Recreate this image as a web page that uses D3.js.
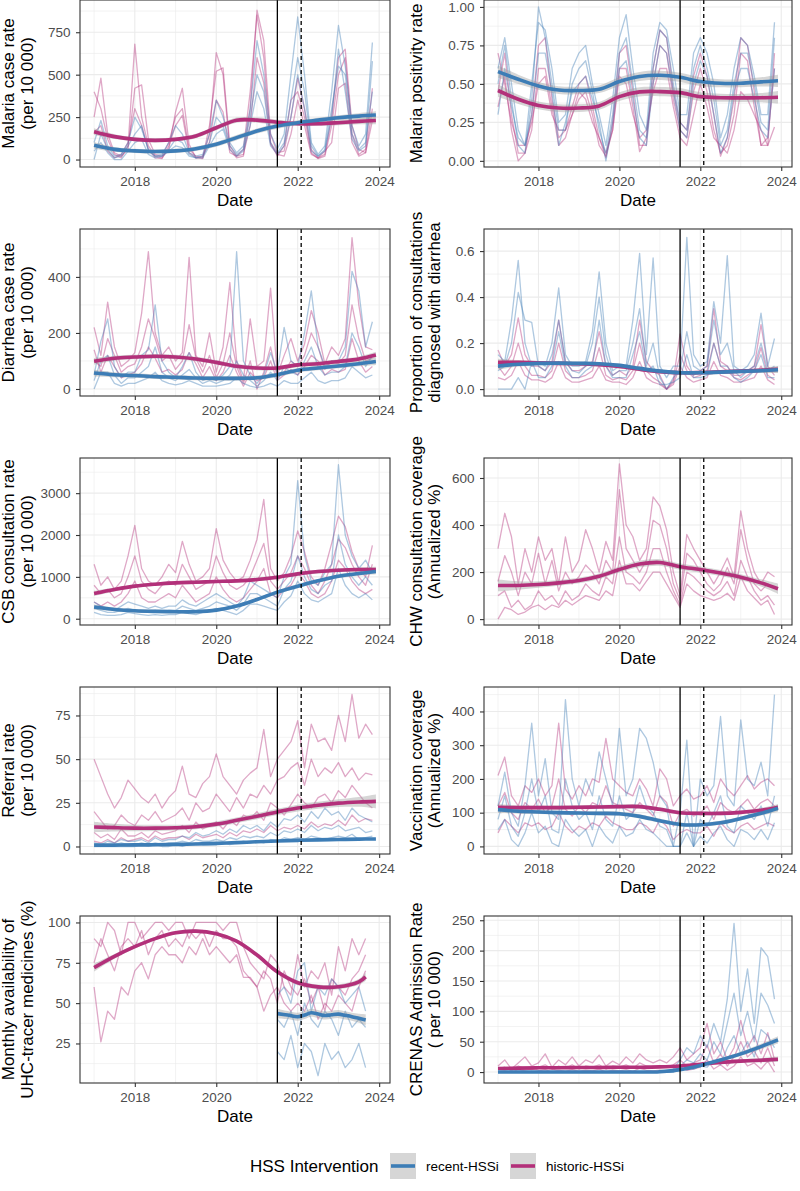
<!DOCTYPE html>
<html lang="en">
<head>
<meta charset="UTF-8">
<title>HSS intervention indicators</title>
<script src="https://cdnjs.cloudflare.com/ajax/libs/d3/7.8.5/d3.min.js"></script>
<style>
  body { margin: 0; background: #fff; }
  svg text { font-family: "Liberation Sans", Arial, Helvetica, sans-serif; }
</style>
</head>
<body>
<div id="draw-here"></div>
<script>
// ---------- data (bimonthly values from Jan 2017) ----------
var xTicks = [2018, 2020, 2022, 2024];
var xMinor = [2017, 2019, 2021, 2023];
var groups = ["recent-HSSi", "historic-HSSi"];
var smoothT = [2017, 2017.5, 2018, 2018.5, 2019, 2019.5, 2020, 2020.5, 2021, 2021.5, 2022, 2022.5, 2023, 2023.5, 2023.92];

// Malaria case rate
var malariaCaseHist = [
  [400,300,120,30,10,80, 680,250,80,20,10,60, 280,420,90,10,5,150, 630,500,60,10,20,300, 880,700,150,40,50,250, 480,300,60,10,30,250, 600,650,200,60,40,300],
  [250,480,150,40,20,60, 420,440,120,30,20,100, 250,300,60,20,10,200, 520,540,80,20,60,400, 850,600,100,20,80,350, 400,250,40,5,20,200, 500,600,150,30,60,420],
  [160,200,50,10,30,100, 300,200,60,10,5,80, 200,260,40,10,20,100, 350,280,40,20,30,200, 600,450,90,30,20,150, 350,200,30,10,50,100, 420,450,100,20,40,230]
];
var malariaCaseRecent = [
  [100,230,80,20,30,100, 250,180,60,20,30,100, 200,150,40,20,30,150, 350,250,100,40,80,300, 700,500,150,60,150,500, 840,500,100,30,80,400, 790,550,200,80,150,690],
  [0,150,60,10,20,80, 150,200,50,20,20,60, 120,100,30,10,20,100, 250,200,80,30,60,250, 500,400,100,40,100,350, 600,400,80,20,60,300, 550,500,150,60,100,400],
  [50,100,40,0,0,50, 100,120,30,10,20,50, 80,70,20,10,10,80, 150,180,60,20,50,200, 400,300,80,30,80,250, 500,300,50,20,50,250, 650,400,120,50,80,580]
];
var malariaCaseSmoothHist = [164,135,119,113,119,139,187,232,232,220,211,211,217,225,230];
var malariaCaseSmoothRecent = [84,60,51,47,51,64,90,129,168,197,217,232,246,256,262];
var malariaCaseBand = [20,14,12,12,12,13,14,15,15,15,14,14,15,17,22];

// Malaria positivity rate
var positivityHist = [
  [0.45,0.7,0.3,0.05,0.05,0.3, 0.75,0.8,0.4,0.15,0.2,0.35, 0.5,0.55,0.35,0.15,0.02,0.25, 0.7,0.75,0.45,0.1,0.1,0.6, 0.85,0.8,0.45,0.25,0.2,0.55, 0.7,0.55,0.3,0.03,0.15,0.4, 0.8,0.75,0.45,0.1,0.1,0.7],
  [0.35,0.55,0.2,0.0,0.05,0.2, 0.6,0.6,0.35,0.1,0.15,0.3, 0.4,0.45,0.3,0.1,0.03,0.2, 0.6,0.6,0.35,0.06,0.15,0.5, 0.75,0.7,0.4,0.2,0.15,0.45, 0.6,0.45,0.2,0.05,0.1,0.3, 0.7,0.65,0.35,0.1,0.15,0.6],
  [0.7,0.5,0.25,0.1,0.1,0.25, 0.5,0.55,0.3,0.2,0.2,0.3, 0.45,0.4,0.25,0.15,0.05,0.2, 0.55,0.5,0.3,0.15,0.2,0.45, 0.6,0.6,0.35,0.15,0.1,0.3, 0.5,0.35,0.15,0.1,0.05,0.2, 0.45,0.4,0.3,0.2,0.1,0.22]
];
var positivityRecent = [
  [0.6,0.8,0.5,0.2,0.1,0.5, 0.9,0.85,0.6,0.25,0.3,0.6, 0.7,0.75,0.5,0.3,0.1,0.4, 0.8,0.95,0.6,0.3,0.2,0.7, 0.9,0.85,0.6,0.3,0.3,0.7, 0.8,0.7,0.5,0.15,0.3,0.6, 0.8,0.75,0.55,0.3,0.3,0.9],
  [0.5,0.75,0.4,0.1,0.05,0.4, 1.0,0.8,0.5,0.2,0.2,0.5, 0.6,0.65,0.45,0.2,0.05,0.3, 0.7,0.8,0.5,0.2,0.15,0.6, 0.85,0.8,0.5,0.25,0.2,0.6, 0.75,0.6,0.4,0.1,0.2,0.5, 0.7,0.7,0.5,0.25,0.2,0.8],
  [0.3,0.6,0.35,0.15,0.1,0.3, 0.7,0.7,0.45,0.1,0.25,0.45, 0.5,0.55,0.4,0.25,0.0,0.25, 0.6,0.65,0.4,0.15,0.1,0.5, 0.75,0.7,0.45,0.2,0.15,0.5, 0.65,0.55,0.3,0.05,0.15,0.45, 0.6,0.6,0.4,0.2,0.15,0.6]
];
var positivitySmoothHist = [0.457,0.40,0.36,0.343,0.343,0.357,0.417,0.448,0.45,0.443,0.417,0.41,0.409,0.41,0.413];
var positivitySmoothRecent = [0.58,0.53,0.487,0.46,0.457,0.465,0.515,0.548,0.556,0.543,0.515,0.504,0.504,0.513,0.52];
var positivityBand = [0.04,0.03,0.025,0.025,0.025,0.025,0.028,0.03,0.03,0.03,0.028,0.026,0.026,0.03,0.04];

// Diarrhea case rate
var diarrheaHist = [
  [220,120,310,150,80,100, 130,270,490,200,120,150, 100,130,470,120,80,200, 60,150,380,100,30,250, 80,100,360,50,120,180, 100,160,280,200,90,150, 120,180,540,300,150,140],
  [100,80,180,120,60,80, 90,150,250,180,100,120, 70,100,230,110,60,120, 40,90,200,80,20,100, 0,60,150,40,60,100, 80,120,200,150,70,100, 90,120,300,180,100,110],
  [140,60,120,80,40,50, 60,90,150,110,60,70, 50,70,130,90,40,80, 30,60,120,60,10,60, 30,40,100,30,50,70, 50,80,120,100,50,70, 60,70,180,100,60,80]
];
var diarrheaRecent = [
  [50,170,250,80,40,60, 60,120,140,300,100,60, 40,80,130,60,30,40, 30,50,80,490,100,50, 20,50,130,60,220,100, 80,200,350,150,80,100, 100,150,420,350,150,240],
  [30,100,120,50,20,40, 40,60,80,150,60,40, 30,50,70,40,20,30, 20,30,50,100,50,30, 10,30,60,30,80,60, 50,100,150,80,50,60, 60,80,200,150,80,120],
  [0,60,60,20,10,20, 20,30,40,60,30,20, 15,20,30,20,10,10, 10,15,20,40,20,10, 5,10,20,10,30,20, 20,40,60,30,20,30, 30,40,80,60,40,50]
];
var diarrheaSmoothHist = [99,110,114,117,114,107,95,81,75,75,86,90,98,107,121];
var diarrheaSmoothRecent = [57,51,48,44,42,39,38,38,40,51,67,75,82,90,98];
var diarrheaBand = [12,9,8,8,8,8,8,8,8,8,8,8,8,9,12];

// Proportion of consultations diagnosed with diarrhea
var propDiarrheaHist = [
  [0.17,0.1,0.15,0.31,0.15,0.1, 0.1,0.08,0.12,0.3,0.12,0.08, 0.08,0.1,0.12,0.25,0.1,0.06, 0.08,0.06,0.1,0.3,0.12,0.08, 0.06,0.0,0.04,0.24,0.1,0.06, 0.08,0.1,0.35,0.12,0.1,0.06, 0.06,0.08,0.1,0.28,0.1,0.06],
  [0.1,0.06,0.1,0.2,0.1,0.06, 0.06,0.05,0.08,0.2,0.08,0.05, 0.05,0.06,0.08,0.18,0.06,0.04, 0.05,0.04,0.08,0.2,0.08,0.05, 0.03,0.0,0.03,0.15,0.08,0.05, 0.06,0.08,0.2,0.1,0.08,0.05, 0.04,0.06,0.08,0.18,0.06,0.04],
  [0.05,0.04,0.06,0.12,0.06,0.04, 0.04,0.03,0.05,0.12,0.05,0.03, 0.03,0.04,0.05,0.1,0.04,0.03, 0.03,0.02,0.05,0.12,0.05,0.03, 0.02,0.0,0.02,0.1,0.05,0.03, 0.04,0.05,0.12,0.06,0.05,0.03, 0.03,0.04,0.05,0.1,0.04,0.02]
];
var propDiarrheaRecent = [
  [0.15,0.12,0.3,0.56,0.2,0.1, 0.12,0.1,0.2,0.44,0.15,0.1, 0.1,0.12,0.25,0.51,0.2,0.08, 0.1,0.1,0.3,0.59,0.15,0.57, 0.1,0.05,0.1,0.1,0.66,0.15, 0.1,0.12,0.38,0.2,0.58,0.1, 0.08,0.1,0.15,0.33,0.1,0.22],
  [0.08,0.1,0.2,0.42,0.3,0.29, 0.1,0.08,0.15,0.3,0.12,0.08, 0.07,0.1,0.2,0.4,0.15,0.06, 0.08,0.08,0.2,0.35,0.1,0.2, 0.05,0.0,0.05,0.08,0.25,0.1, 0.08,0.1,0.3,0.15,0.2,0.08, 0.05,0.08,0.1,0.2,0.08,0.1],
  [0.0,0.0,0.0,0.05,0.0,0.12, 0.05,0.05,0.1,0.25,0.1,0.05, 0.05,0.08,0.1,0.3,0.1,0.05, 0.05,0.05,0.15,0.25,0.08,0.1, 0.02,0.02,0.03,0.05,0.15,0.05, 0.05,0.06,0.2,0.1,0.1,0.05, 0.03,0.05,0.08,0.15,0.05,0.05]
];
var propDiarrheaSmoothHist = [0.117,0.116,0.114,0.112,0.110,0.106,0.098,0.086,0.076,0.071,0.072,0.075,0.078,0.082,0.086];
var propDiarrheaSmoothRecent = [0.100,0.108,0.112,0.113,0.112,0.110,0.103,0.090,0.078,0.071,0.071,0.074,0.077,0.080,0.084];
var propDiarrheaBand = [0.015,0.01,0.008,0.008,0.008,0.008,0.008,0.008,0.008,0.008,0.008,0.008,0.008,0.01,0.014];

// CSB consultation rate
var csbHist = [
  [1300,800,1000,700,900,1500, 2230,1200,900,800,1000,1300, 1100,1850,1300,900,1000,1200, 2150,1400,1100,900,1000,1400, 1900,2850,1200,900,1100,1500, 2100,1600,1000,800,1200,1800, 2450,2200,1600,1200,1000,1750],
  [800,600,700,500,600,1000, 1500,900,700,600,800,900, 800,1300,1000,700,800,900, 1500,1100,800,700,800,1000, 1400,1800,900,700,900,1100, 1500,1200,800,600,900,1300, 1900,1700,1300,1000,800,1300],
  [400,300,400,300,400,600, 900,500,400,400,500,600, 500,800,600,400,500,600, 1000,700,500,400,500,700, 900,1200,600,500,700,800, 1100,900,600,500,600,900, 1400,1200,900,700,600,700]
];
var csbRecent = [
  [400,300,250,200,300,400, 350,300,250,300,250,300, 300,450,350,300,400,500, 600,500,400,300,500,900, 800,700,600,500,1000,1300, 3300,1500,900,800,1100,1300, 3680,2000,1500,1200,1400,1100],
  [250,200,150,150,200,250, 200,150,150,200,150,200, 200,300,250,200,250,300, 400,350,300,200,350,600, 600,500,400,300,700,900, 1500,1000,700,600,800,900, 2000,1300,1000,800,1000,800],
  [150,100,80,80,100,150, 120,100,80,100,80,100, 100,150,120,100,150,180, 250,200,150,100,200,350, 350,300,250,200,400,550, 900,600,450,400,500,600, 1200,800,600,500,600,450]
];
var csbSmoothHist = [603,698,778,825,857,873,889,905,937,992,1071,1127,1159,1175,1175];
var csbSmoothRecent = [278,222,190,175,167,167,206,302,460,635,778,905,1016,1079,1127];
var csbBand = [60,45,40,38,38,38,38,40,42,45,45,45,45,50,65];

// CHW consultation coverage (historic sites only)
var chwHist = [
  [300,450,350,150,300,200, 350,250,300,150,350,200, 250,380,300,200,330,250, 660,400,350,250,300,520, 480,380,200,100,360,300, 250,200,150,200,260,180, 460,300,200,150,200,180],
  [160,270,200,100,200,150, 280,150,250,120,200,150, 180,230,200,150,250,200, 550,300,250,200,250,420, 400,300,150,80,280,250, 200,150,120,150,220,150, 380,250,150,120,150,130],
  [100,120,50,80,40,60, 120,80,100,60,120,80, 100,150,120,100,180,150, 350,200,180,150,200,300, 300,200,120,60,200,180, 150,120,100,120,160,100, 250,180,120,80,100,60],
  [0,50,40,20,30,50, 60,40,60,50,80,60, 80,100,90,80,120,100, 250,150,150,120,160,200, 200,150,100,50,150,120, 100,90,80,90,110,80, 180,120,90,60,80,20]
];
var chwSmoothHist = [143,143,147,154,164,182,211,234,241,223,211,196,178,154,129];
var chwBand = [25,18,14,12,12,12,13,14,14,13,13,13,13,15,22];

// Referral rate
var referralHist = [
  [50,40,30,22,28,38, 33,28,25,30,22,28, 32,46,30,28,36,40, 53,40,35,30,38,42, 45,67,40,50,55,60, 72,45,70,60,62,55, 75,60,87,62,70,64],
  [20,15,10,12,18,14, 12,18,15,20,14,16, 18,22,15,25,20,22, 30,25,20,28,22,30, 28,35,30,38,40,45, 48,35,50,40,45,42, 48,40,45,38,42,41],
  [8,5,7,4,10,6, 6,8,5,9,7,8, 9,12,8,14,10,12, 14,10,15,12,18,16, 20,15,25,22,18,24, 30,25,22,28,30,25, 32,28,35,30,25,22],
  [3,2,4,2,5,3, 4,5,3,6,4,5, 5,6,4,7,5,6, 7,5,8,6,9,8, 10,8,12,9,11,10, 12,10,14,11,13,12, 15,12,18,14,16,15]
];
var referralRecent = [
  [2,1,3,2,4,3, 3,4,2,5,3,4, 4,6,5,8,6,7, 9,7,10,8,12,10, 12,9,14,11,16,15, 18,14,20,16,22,18, 20,15,22,18,16,14],
  [1,0,1,1,2,1, 1,2,1,2,1,2, 2,3,2,4,3,3, 4,3,5,4,6,5, 6,5,8,6,9,8, 10,8,12,9,11,10, 12,9,10,11,8,9],
  [0,0,0,0,0,0, 0,1,0,1,0,0, 1,0,1,2,1,1, 1,2,1,2,3,2, 3,2,4,3,5,4, 5,4,6,5,4,5, 6,5,7,4,5,6]
];
var referralSmoothHist = [11.2,10.8,10.5,10.5,10.7,11.3,12.8,15,17.3,19.8,22,23.6,24.8,25.5,25.8];
var referralSmoothRecent = [0.8,0.8,0.9,1.0,1.2,1.4,1.8,2.2,2.7,3.1,3.5,3.8,4.0,4.2,4.3];
var referralBandHist = [3,2.2,1.8,1.6,1.5,1.5,1.5,1.6,1.7,1.8,1.9,2.0,2.2,2.8,4];
var referralBandRecent = [0.4,0.3,0.3,0.3,0.3,0.3,0.3,0.3,0.3,0.3,0.3,0.3,0.3,0.4,0.5];

// Vaccination coverage
var vaccinationHist = [
  [210,265,150,120,180,160, 200,150,180,365,170,140, 180,150,200,190,320,200, 180,160,150,200,170,120, 230,200,120,150,170,140, 150,180,130,200,170,150, 180,210,170,190,200,180],
  [120,160,100,80,130,110, 140,100,120,200,110,90, 120,100,130,120,180,130, 120,110,100,130,110,90, 150,130,60,100,110,90, 100,120,80,130,110,100, 120,140,110,130,140,120],
  [40,80,60,40,70,60, 70,50,60,100,60,40, 60,50,70,60,90,70, 60,50,50,70,60,40, 80,60,20,40,50,40, 40,60,30,70,50,40, 60,70,50,60,70,60]
];
var vaccinationRecent = [
  [120,220,100,60,180,365, 150,260,100,80,435,200, 120,200,150,280,200,120, 350,150,200,350,320,250, 150,120,0,100,315,0, 200,150,180,385,150,120, 375,200,180,250,150,450],
  [80,150,60,30,100,200, 100,150,50,40,200,120, 80,100,50,150,80,60, 150,80,100,180,120,100, 60,50,0,0,100,0, 80,60,100,150,60,40, 120,100,80,120,60,150],
  [50,80,20,0,40,100, 40,60,10,0,80,50, 30,50,0,60,30,10, 60,30,40,80,50,40, 20,0,0,0,40,0, 30,10,40,60,20,0, 50,40,20,50,20,70]
];
var vaccinationSmoothHist = [116,115,115,115,116,117,118,118,110,100,98,98,101,107,116];
var vaccinationSmoothRecent = [109,104,102,100,99,98,97,89,76,65,64,70,83,98,113];
var vaccinationBand = [10,7,6,6,6,6,6,6,6,6,6,6,6,7,10];

// Monthly availability of UHC-tracer medicines (historic from Jan 2017, recent from Jul 2021)
var availabilityHist = [
  [90,85,100,95,80,100, 100,90,95,100,100,95, 100,100,90,100,100,100, 100,95,100,100,85,75, 70,65,80,75,60,55, 80,60,70,65,75,55, 85,70,90,80,90],
  [75,90,80,70,85,90, 85,95,80,90,95,85, 90,85,95,90,95,85, 95,90,90,85,70,65, 60,70,65,50,70,60, 55,65,50,60,45,65, 60,55,65,70,80],
  [60,26,45,40,60,55, 70,75,65,80,85,80, 80,75,85,80,90,80, 85,80,75,80,66,66, 60,45,55,60,50,45, 50,45,55,40,50,45, 55,50,45,60,70]
];
var availabilityRecent = [
  [55,60,50,70,75,45,60,55,65,60,50,55,60,45],
  [40,35,45,30,50,40,35,45,40,30,45,35,40,35],
  [20,15,30,10,25,20,5,25,15,20,10,15,25,10]
];
var availabilitySmoothHistT = [2017, 2017.5, 2018, 2018.5, 2019, 2019.5, 2020, 2020.5, 2021, 2021.5, 2022, 2022.5, 2023, 2023.5, 2023.67];
var availabilitySmoothHist = [72,79,85,90,93.6,94.6,93,88.4,79.8,69.4,62.6,60.1,60.1,63.2,66.3];
var availabilityBandHist = [2.5,1.5,1.2,1.1,1.1,1.1,1.1,1.1,1.2,1.4,1.5,1.5,1.5,1.8,2.5];
var availabilitySmoothRecentT = [2021.5, 2021.75, 2022, 2022.17, 2022.33, 2022.5, 2022.67, 2022.83, 2023, 2023.17, 2023.33, 2023.5, 2023.67];
var availabilitySmoothRecent = [43.5,42.6,41.6,42.6,44,43.2,42.3,42.8,43.2,42.4,41.6,40.6,39.6];
var availabilityBandRecent = [3,2.5,2.5,2.5,2.5,2.5,2.5,2.5,2.5,2.5,2.5,2.8,3.5];

// CRENAS admission rate
var crenasHist = [
  [10,20,5,15,25,10, 15,30,8,20,12,25, 10,20,15,28,10,18, 12,25,15,30,20,15, 20,15,25,40,20,30, 40,80,30,50,20,40, 85,40,60,30,65,20],
  [5,8,2,10,6,4, 8,12,5,10,6,12, 5,10,8,12,5,10, 8,12,6,15,10,8, 10,8,12,20,10,15, 20,45,15,30,10,25, 50,25,35,15,40,10],
  [0,2,0,4,2,0, 2,4,0,3,1,4, 1,3,2,5,0,3, 2,4,1,6,3,2, 3,2,4,8,3,5, 8,20,5,12,3,10, 25,10,15,5,18,0]
];
var crenasRecent = [
  [0,0,0,0,0,0, 0,0,0,0,0,0, 0,0,0,0,0,0, 0,0,0,0,0,0, 0,0,5,20,40,30, 60,40,80,50,120,245, 100,170,80,205,190,120],
  [0,0,0,0,0,0, 0,0,0,0,0,0, 0,0,0,0,0,0, 0,0,0,0,0,0, 0,0,0,10,20,15, 30,20,50,30,80,130, 60,100,50,130,110,80],
  [0,0,0,0,0,0, 0,0,0,0,0,0, 0,0,0,0,0,0, 0,0,0,0,0,0, 0,0,0,3,8,5, 10,8,20,12,40,60, 30,50,25,70,60,40]
];
var crenasSmoothHist = [6,6.5,7,7,7.5,7.5,8,8,8.5,10,13,16,18,19.5,21];
var crenasSmoothRecent = [0,0,0,0,0,0,0,0,0.5,4,11,20,30,42,53];
var crenasBandHist = [2,1.5,1.2,1.2,1.2,1.2,1.2,1.2,1.3,1.5,2,2.5,3,3.5,4.5];
var crenasBandRecent = [1,0.8,0.8,0.8,0.8,0.8,0.8,0.8,0.8,1,1.5,2.5,3.5,4.5,6];

// ---------- layout ----------
var w = 800;
var h = 1191;
var colLeft = [80, 484];
var colWidth = [310, 308];
var rowTop = [0, 229, 458, 687, 916];
var panelH = 167;
var xDomain = [2016.654, 2024.266];
var cutSolid = 2021.5;
var cutDashed = 2022.085;
var blue = "#3D7DB6";
var pink = "#B3307A";
var titleX = [[14, 32.5], [421.5, 440]];

var intFmt = d3.format("d");

var panels = [
  { col: 0, row: 0, title: ["Malaria case rate", "(per 10 000)"], yDomain: [-44, 940], yTicks: [0, 250, 500, 750], fmt: intFmt,
    hist: malariaCaseHist, recent: malariaCaseRecent, histStart: 2017, recentStart: 2017,
    smoothHist: malariaCaseSmoothHist, smoothRecent: malariaCaseSmoothRecent, bandHist: malariaCaseBand, bandRecent: malariaCaseBand },
  { col: 1, row: 0, title: ["Malaria positivity rate"], yDomain: [-0.04, 1.045], yTicks: [0, 0.25, 0.5, 0.75, 1], fmt: d3.format(".2f"),
    hist: positivityHist, recent: positivityRecent, histStart: 2017, recentStart: 2017,
    smoothHist: positivitySmoothHist, smoothRecent: positivitySmoothRecent, bandHist: positivityBand, bandRecent: positivityBand },
  { col: 0, row: 1, title: ["Diarrhea case rate", "(per 10 000)"], yDomain: [-25, 571], yTicks: [0, 200, 400], fmt: intFmt,
    hist: diarrheaHist, recent: diarrheaRecent, histStart: 2017, recentStart: 2017,
    smoothHist: diarrheaSmoothHist, smoothRecent: diarrheaSmoothRecent, bandHist: diarrheaBand, bandRecent: diarrheaBand },
  { col: 1, row: 1, title: ["Proportion of consultations", "diagnosed with diarrhea"], yDomain: [-0.03, 0.696], yTicks: [0, 0.2, 0.4, 0.6], fmt: d3.format(".1f"),
    hist: propDiarrheaHist, recent: propDiarrheaRecent, histStart: 2017, recentStart: 2017,
    smoothHist: propDiarrheaSmoothHist, smoothRecent: propDiarrheaSmoothRecent, bandHist: propDiarrheaBand, bandRecent: propDiarrheaBand },
  { col: 0, row: 2, title: ["CSB consultation rate", "(per 10 000)"], yDomain: [-150, 3840], yTicks: [0, 1000, 2000, 3000], fmt: intFmt,
    hist: csbHist, recent: csbRecent, histStart: 2017, recentStart: 2017,
    smoothHist: csbSmoothHist, smoothRecent: csbSmoothRecent, bandHist: csbBand, bandRecent: csbBand },
  { col: 1, row: 2, title: ["CHW consultation coverage", "(Annualized %)"], yDomain: [-25, 685], yTicks: [0, 200, 400, 600], fmt: intFmt,
    hist: chwHist, recent: [], histStart: 2017, recentStart: 2017,
    smoothHist: chwSmoothHist, smoothRecent: null, bandHist: chwBand, bandRecent: null },
  { col: 0, row: 3, title: ["Referral rate", "(per 10 000)"], yDomain: [-4.3, 91.3], yTicks: [0, 25, 50, 75], fmt: intFmt,
    hist: referralHist, recent: referralRecent, histStart: 2017, recentStart: 2017,
    smoothHist: referralSmoothHist, smoothRecent: referralSmoothRecent, bandHist: referralBandHist, bandRecent: referralBandRecent },
  { col: 1, row: 3, title: ["Vaccination coverage", "(Annualized %)"], yDomain: [-22.5, 472.5], yTicks: [0, 100, 200, 300, 400], fmt: intFmt,
    hist: vaccinationHist, recent: vaccinationRecent, histStart: 2017, recentStart: 2017,
    smoothHist: vaccinationSmoothHist, smoothRecent: vaccinationSmoothRecent, bandHist: vaccinationBand, bandRecent: vaccinationBand },
  { col: 0, row: 4, title: ["Monthly availability of", "UHC-tracer medicines (%)"], yDomain: [0.5, 104], yTicks: [25, 50, 75, 100], fmt: intFmt,
    hist: availabilityHist, recent: availabilityRecent, histStart: 2017, recentStart: 2021.5,
    smoothHist: availabilitySmoothHist, smoothRecent: availabilitySmoothRecent, bandHist: availabilityBandHist, bandRecent: availabilityBandRecent,
    smoothHistT: availabilitySmoothHistT, smoothRecentT: availabilitySmoothRecentT },
  { col: 1, row: 4, title: ["CRENAS Admission Rate", "( per 10 000)"], yDomain: [-18, 257], yTicks: [0, 50, 100, 150, 200, 250], fmt: intFmt,
    hist: crenasHist, recent: crenasRecent, histStart: 2017, recentStart: 2017,
    smoothHist: crenasSmoothHist, smoothRecent: crenasSmoothRecent, bandHist: crenasBandHist, bandRecent: crenasBandRecent }
];

var svg = d3.select("#draw-here")
    .append("svg")
    .attr("width", w)
    .attr("height", h);

panels.forEach(draw_panel);
draw_legend();

// minor breaks halfway between the major ones (ggplot style)
function minor_breaks(ticks, domain) {
    var out = [];
    var step = ticks[1] - ticks[0];
    var cand = [ticks[0] - step / 2];
    for (var i = 0; i < ticks.length; i++) cand.push(ticks[i] + step / 2);
    cand.forEach(function(v) {
        if (v > domain[0] && v < domain[1]) out.push(v);
    });
    return out;
}

function draw_panel(p, idx) {
    var left = colLeft[p.col];
    var top = rowTop[p.row];
    var pw = colWidth[p.col];

    var x = d3.scaleLinear().domain(xDomain).range([0, pw]);
    var y = d3.scaleLinear().domain(p.yDomain).range([panelH, 0]);

    var g = svg.append("g").attr("transform", "translate(" + left + "," + top + ")");

    // grid
    var grid = g.append("g");
    grid.selectAll(".ymin").data(minor_breaks(p.yTicks, p.yDomain)).enter().append("line")
        .attr("x1", 0).attr("x2", pw)
        .attr("y1", function(d) { return y(d); }).attr("y2", function(d) { return y(d); })
        .attr("stroke", "#EBEBEB").attr("stroke-width", 0.6);
    grid.selectAll(".xmin").data(xMinor).enter().append("line")
        .attr("y1", 0).attr("y2", panelH)
        .attr("x1", function(d) { return x(d); }).attr("x2", function(d) { return x(d); })
        .attr("stroke", "#EBEBEB").attr("stroke-width", 0.6);
    grid.selectAll(".ymaj").data(p.yTicks).enter().append("line")
        .attr("x1", 0).attr("x2", pw)
        .attr("y1", function(d) { return y(d); }).attr("y2", function(d) { return y(d); })
        .attr("stroke", "#EBEBEB").attr("stroke-width", 1.1);
    grid.selectAll(".xmaj").data(xTicks).enter().append("line")
        .attr("y1", 0).attr("y2", panelH)
        .attr("x1", function(d) { return x(d); }).attr("x2", function(d) { return x(d); })
        .attr("stroke", "#EBEBEB").attr("stroke-width", 1.1);

    g.append("clipPath").attr("id", "clip" + idx)
        .append("rect").attr("width", pw).attr("height", panelH);
    var plot = g.append("g").attr("clip-path", "url(#clip" + idx + ")");

    var line = d3.line()
        .x(function(d) { return x(d.t); })
        .y(function(d) { return y(d.v); });

    function as_points(vals, start) {
        return vals.map(function(v, i) { return { t: start + i / 6, v: v }; });
    }

    // thin facility lines
    p.hist.forEach(function(s) {
        plot.append("path").datum(as_points(s, p.histStart))
            .attr("d", line).attr("fill", "none")
            .attr("stroke", pink).attr("stroke-opacity", 0.42)
            .attr("stroke-width", 1.3).attr("stroke-linejoin", "round");
    });
    p.recent.forEach(function(s) {
        plot.append("path").datum(as_points(s, p.recentStart))
            .attr("d", line).attr("fill", "none")
            .attr("stroke", blue).attr("stroke-opacity", 0.42)
            .attr("stroke-width", 1.3).attr("stroke-linejoin", "round");
    });

    // smoothers with ribbons
    var smooth = [];
    smooth.push({ t: p.smoothHistT || smoothT, v: p.smoothHist, b: p.bandHist, c: pink });
    if (p.smoothRecent) smooth.push({ t: p.smoothRecentT || smoothT, v: p.smoothRecent, b: p.bandRecent, c: blue });

    var area = d3.area().curve(d3.curveCatmullRom)
        .x(function(d) { return x(d.t); })
        .y0(function(d) { return y(d.v - d.b); })
        .y1(function(d) { return y(d.v + d.b); });
    var sline = d3.line().curve(d3.curveCatmullRom)
        .x(function(d) { return x(d.t); })
        .y(function(d) { return y(d.v); });

    smooth.forEach(function(s) {
        var pts = s.v.map(function(v, i) { return { t: s.t[i], v: v, b: s.b[i] }; });
        plot.append("path").datum(pts).attr("d", area)
            .attr("fill", "#999999").attr("fill-opacity", 0.4);
    });
    smooth.forEach(function(s) {
        var pts = s.v.map(function(v, i) { return { t: s.t[i], v: v }; });
        plot.append("path").datum(pts).attr("d", sline)
            .attr("fill", "none").attr("stroke", s.c).attr("stroke-width", 3.6)
            .attr("stroke-linecap", "butt");
    });

    // intervention dates
    g.append("line").attr("x1", x(cutSolid)).attr("x2", x(cutSolid))
        .attr("y1", 0).attr("y2", panelH)
        .attr("stroke", "#000").attr("stroke-width", 1.3);
    g.append("line").attr("x1", x(cutDashed)).attr("x2", x(cutDashed))
        .attr("y1", 0).attr("y2", panelH)
        .attr("stroke", "#000").attr("stroke-width", 1.3).attr("stroke-dasharray", "4,3");

    g.append("rect").attr("width", pw).attr("height", panelH)
        .attr("fill", "none").attr("stroke", "#333333").attr("stroke-width", 1.1);

    // axes
    var xAxis = d3.axisBottom(x).tickValues(xTicks).tickFormat(intFmt).tickSize(4).tickPadding(5.5);
    var yAxis = d3.axisLeft(y).tickValues(p.yTicks).tickFormat(p.fmt).tickSize(4).tickPadding(5.5);
    var gx = g.append("g").attr("transform", "translate(0," + panelH + ")").call(xAxis);
    var gy = g.append("g").call(yAxis);
    [gx, gy].forEach(function(a) {
        a.select(".domain").remove();
        a.attr("font-family", "Liberation Sans, Arial, sans-serif").attr("font-size", 13.5);
        a.selectAll("line").attr("stroke", "#333333").attr("stroke-width", 1.1);
        a.selectAll("text").attr("fill", "#4D4D4D");
    });

    g.append("text").attr("x", pw / 2).attr("y", panelH + 39)
        .attr("text-anchor", "middle").attr("font-size", 17).attr("fill", "#000")
        .text("Date");

    var tx = titleX[p.col];
    p.title.forEach(function(t, i) {
        svg.append("text")
            .attr("transform", "translate(" + tx[i] + "," + (top + panelH / 2) + ") rotate(-90)")
            .attr("text-anchor", "middle").attr("font-size", 17).attr("fill", "#000")
            .text(t);
    });
}

function draw_legend() {
    var ly = 1166;
    var lg = svg.append("g");
    lg.append("text").attr("x", 250).attr("y", ly + 6)
        .attr("font-size", 17).attr("fill", "#000").text("HSS Intervention");
    var keys = [
        { label: groups[0], color: blue, x: 390 },
        { label: groups[1], color: pink, x: 510 }
    ];
    keys.forEach(function(k) {
        lg.append("rect").attr("x", k.x).attr("y", ly - 13).attr("width", 26).attr("height", 26)
            .attr("fill", "#D6D6D6");
        lg.append("line").attr("x1", k.x + 1).attr("x2", k.x + 25)
            .attr("y1", ly).attr("y2", ly)
            .attr("stroke", k.color).attr("stroke-width", 3.6);
        lg.append("text").attr("x", k.x + 36).attr("y", ly + 5)
            .attr("font-size", 13.5).attr("fill", "#000").text(k.label);
    });
}
</script>
</body>
</html>
